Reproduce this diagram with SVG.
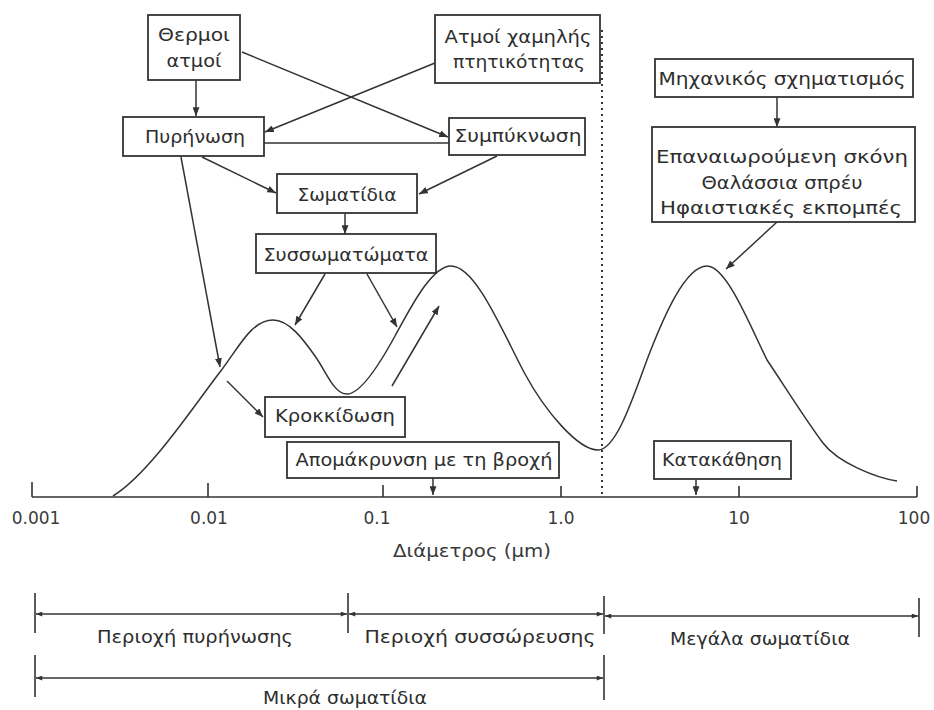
<svg xmlns="http://www.w3.org/2000/svg" width="934" height="710" viewBox="0 0 934 710">
  <style>
    .box { fill: #ffffff; stroke: #333333; stroke-width: 1.8; }
    .lbl { font-family: "DejaVu Sans", "Liberation Sans", sans-serif; font-size: 17px; fill: #2e2e2e; text-anchor: middle; }
    .ax  { font-family: "DejaVu Sans", "Liberation Sans", sans-serif; font-size: 17px; fill: #3a3a3a; text-anchor: middle; }
    .ln  { fill: none; stroke: #333333; stroke-width: 1.5; }
    .arr { fill: none; stroke: #333333; stroke-width: 1.5; marker-end: url(#head); }
    .rng { fill: none; stroke: #333333; stroke-width: 1.6; marker-start: url(#tail); marker-end: url(#head2); }
    .tick { stroke: #333333; stroke-width: 1.6; }
  </style>
  <defs>
    <marker id="head" viewBox="0 0 10 8" refX="10" refY="4" markerWidth="9" markerHeight="7" markerUnits="userSpaceOnUse" orient="auto">
      <path d="M0,0 L10,4 L0,8 z" fill="#333333"/>
    </marker>
    <marker id="head2" viewBox="0 0 10 8" refX="10" refY="4" markerWidth="7" markerHeight="5" markerUnits="userSpaceOnUse" orient="auto">
      <path d="M0,0 L10,4 L0,8 z" fill="#333333"/>
    </marker>
    <marker id="tail" viewBox="0 0 10 8" refX="0" refY="4" markerWidth="7" markerHeight="5" markerUnits="userSpaceOnUse" orient="auto">
      <path d="M10,0 L0,4 L10,8 z" fill="#333333"/>
    </marker>
  </defs>

  <rect width="934" height="710" fill="#ffffff"/>

  <!-- size distribution axis -->
  <g id="axis">
    <line class="tick" x1="32" y1="497" x2="917" y2="497"/>
    <line class="tick" x1="32" y1="482" x2="32" y2="497"/>
    <line class="tick" x1="208" y1="483" x2="208" y2="497"/>
    <line class="tick" x1="383" y1="485" x2="383" y2="497"/>
    <line class="tick" x1="561" y1="486" x2="561" y2="497"/>
    <line class="tick" x1="739" y1="486" x2="739" y2="497"/>
    <line class="tick" x1="917" y1="486" x2="917" y2="497"/>
    <text class="ax" x="36" y="524">0.001</text>
    <text class="ax" x="209" y="524">0.01</text>
    <text class="ax" x="377" y="524">0.1</text>
    <text class="ax" x="561" y="524">1.0</text>
    <text class="ax" x="739" y="524">10</text>
    <text class="ax" x="914" y="524">100</text>
    <text class="ax" x="472" y="557" textLength="158" lengthAdjust="spacingAndGlyphs">Διάμετρος (μm)</text>
  </g>

  <!-- boundary between fine and coarse particles -->
  <line id="divider" x1="602" y1="30" x2="602" y2="497" stroke="#333333" stroke-width="2" stroke-dasharray="2,4"/>

  <!-- trimodal distribution curve -->
  <path id="curve" class="ln" stroke-width="1.8" d="M113,496 C149,474 193,407 220,372 C238,349 251,320 273,320 C289,320 303,339 315,356 C327,373 334,394 347,394 C362,394 383,358 395,336 C409,311 431,266 451,266 C476,266 503,333 525,374 C545,411 578,450 598,450 C618,450 637,385 650,352 C663,319 685,266 707,266 C727,266 752,330 767,360 C782,382 805,419 823,443 C838,463 877,478 897,481"/>

  <!-- size ranges -->
  <g id="ranges">
    <line class="tick" x1="35" y1="593" x2="35" y2="633"/>
    <line class="tick" x1="348" y1="593" x2="348" y2="633"/>
    <line class="tick" x1="604" y1="596" x2="604" y2="634"/>
    <line class="tick" x1="919" y1="598" x2="919" y2="637"/>
    <path class="rng" d="M36,614 L347,614"/>
    <path class="rng" d="M349,614 L603,614"/>
    <path class="rng" d="M605,616 L918,616"/>
    <text class="lbl" x="195" y="643" textLength="196" lengthAdjust="spacingAndGlyphs">Περιοχή πυρήνωσης</text>
    <text class="lbl" x="480" y="643" textLength="231" lengthAdjust="spacingAndGlyphs">Περιοχή συσσώρευσης</text>
    <text class="lbl" x="760" y="645" textLength="180" lengthAdjust="spacingAndGlyphs">Μεγάλα σωματίδια</text>
    <line class="tick" x1="35" y1="655" x2="35" y2="697"/>
    <line class="tick" x1="604" y1="655" x2="604" y2="700"/>
    <path class="rng" d="M36,678 L603,678"/>
    <text class="lbl" x="345" y="704" textLength="164" lengthAdjust="spacingAndGlyphs">Μικρά σωματίδια</text>
  </g>

  <!-- process connectors -->
  <g id="connectors">
    <path class="arr" d="M196,80 L196,116"/>
    <path class="arr" d="M242,52 L448,137"/>
    <path class="arr" d="M435,63 L265,132"/>
    <path class="ln" d="M264,143 L449,143"/>
    <path class="arr" d="M202,157 L276,193"/>
    <path class="arr" d="M497,156 L419,194"/>
    <path class="arr" d="M345,213 L345,234"/>
    <path class="arr" d="M325,274 L295,325"/>
    <path class="arr" d="M367,274 L397,327"/>
    <path class="arr" d="M181,157 L220,367"/>
    <path class="arr" d="M227,381 L263,417"/>
    <path class="arr" d="M392,386 L439,306"/>
    <path class="arr" d="M433,478 L433,495"/>
    <path class="arr" d="M696,480 L696,495"/>
    <path class="arr" d="M777,97 L777,127"/>
    <path class="arr" d="M777,222 L726,269"/>
  </g>

  <!-- process nodes -->
  <g id="hot-vapours">
    <rect class="box" x="148" y="15" width="92" height="65"/>
    <text class="lbl" x="194" y="41" textLength="72" lengthAdjust="spacingAndGlyphs">Θερμοι</text>
    <text class="lbl" x="194" y="67" textLength="55" lengthAdjust="spacingAndGlyphs">ατμοί</text>
  </g>
  <g id="low-volatility">
    <rect class="box" x="435" y="15" width="165" height="68"/>
    <text class="lbl" x="518" y="43" textLength="147" lengthAdjust="spacingAndGlyphs">Ατμοί χαμηλής</text>
    <text class="lbl" x="519" y="68" textLength="132" lengthAdjust="spacingAndGlyphs">πτητικότητας</text>
  </g>
  <g id="nucleation">
    <rect class="box" x="123" y="117" width="141" height="39"/>
    <text class="lbl" x="195" y="143" textLength="100" lengthAdjust="spacingAndGlyphs">Πυρήνωση</text>
  </g>
  <g id="condensation">
    <rect class="box" x="449" y="118" width="136" height="37"/>
    <text class="lbl" x="518" y="142" textLength="127" lengthAdjust="spacingAndGlyphs">Συμπύκνωση</text>
  </g>
  <g id="particles">
    <rect class="box" x="277" y="174" width="140" height="39"/>
    <text class="lbl" x="347" y="201" textLength="99" lengthAdjust="spacingAndGlyphs">Σωματίδια</text>
  </g>
  <g id="aggregates">
    <rect class="box" x="256" y="234" width="180" height="39"/>
    <text class="lbl" x="346" y="261" textLength="165" lengthAdjust="spacingAndGlyphs">Συσσωματώματα</text>
  </g>
  <g id="coagulation">
    <rect class="box" x="265" y="397" width="140" height="40"/>
    <text class="lbl" x="335" y="422" textLength="120" lengthAdjust="spacingAndGlyphs">Κροκκίδωση</text>
  </g>
  <g id="rainout">
    <rect class="box" x="287" y="442" width="272" height="36"/>
    <text class="lbl" x="424" y="466" textLength="257" lengthAdjust="spacingAndGlyphs">Απομάκρυνση με τη βροχή</text>
  </g>
  <g id="sedimentation">
    <rect class="box" x="654" y="441" width="137" height="38"/>
    <text class="lbl" x="722" y="466" textLength="120" lengthAdjust="spacingAndGlyphs">Κατακάθηση</text>
  </g>
  <g id="mechanical">
    <rect class="box" x="655" y="59" width="258" height="38"/>
    <text class="lbl" x="782" y="85" textLength="247" lengthAdjust="spacingAndGlyphs">Μηχανικός σχηματισμός</text>
  </g>
  <g id="coarse-sources">
    <rect class="box" x="652" y="127" width="263" height="95"/>
    <text class="lbl" x="782" y="163" textLength="252" lengthAdjust="spacingAndGlyphs">Επαναιωρούμενη σκόνη</text>
    <text class="lbl" x="782" y="189" textLength="161" lengthAdjust="spacingAndGlyphs">Θαλάσσια σπρέυ</text>
    <text class="lbl" x="781" y="214" textLength="242" lengthAdjust="spacingAndGlyphs">Ηφαιστιακές εκπομπές</text>
  </g>
</svg>
